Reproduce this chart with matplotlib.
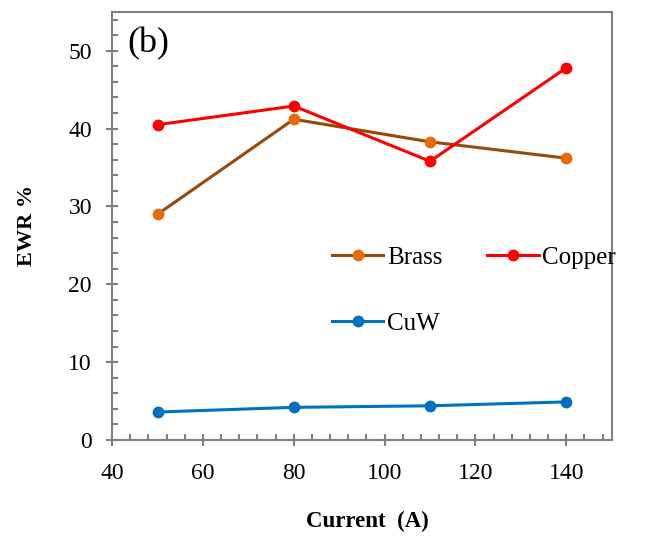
import matplotlib
matplotlib.use("Agg")
import matplotlib.pyplot as plt
from matplotlib.ticker import MultipleLocator

current = [50, 80, 110, 140]
brass = [29.0, 41.2, 38.3, 36.2]
copper = [40.5, 42.9, 35.8, 47.8]
cuw = [3.6, 4.2, 4.4, 4.9]

plt.rcParams['font.family'] = ['Liberation Serif', 'DejaVu Serif']

fig = plt.figure(figsize=(6.48, 5.36), dpi=100)
ax = fig.add_axes([0.173, 0.179, 0.771, 0.799])

gray = '#808080'
l1, = ax.plot(current, brass, color='#984807', lw=2.2, marker='o', ms=7.5,
              mfc='#E46C0A', mec='#E46C0A', label='Brass', zorder=3)
l2, = ax.plot(current, copper, color='#FF0000', lw=2.2, marker='o', ms=7.5,
              mfc='#FF0000', mec='#FF0000', label='Copper', zorder=3)
l3, = ax.plot(current, cuw, color='#0070C0', lw=2.2, marker='o', ms=7.5,
              mfc='#0070C0', mec='#0070C0', label='CuW', zorder=3)

ax.set_xlim(40, 150)
ax.set_ylim(0, 55)
ax.xaxis.set_major_locator(MultipleLocator(20))
ax.xaxis.set_minor_locator(MultipleLocator(4))
ax.yaxis.set_major_locator(MultipleLocator(10))
ax.yaxis.set_minor_locator(MultipleLocator(2))

for s in ax.spines.values():
    s.set_color(gray)
    s.set_linewidth(1.5)

ax.tick_params(which='major', direction='inout', length=9, width=1.5,
               color=gray, labelsize=17, pad=10)
ax.tick_params(which='minor', direction='in', length=4.5, width=1.5,
               color=gray)
ax.tick_params(axis='x', pad=12)

ax.set_xlabel('Current  (A)', fontsize=16.5, fontweight='bold')
ax.set_ylabel('EWR %', fontsize=16, fontweight='bold')
ax.xaxis.set_label_coords(0.51, -0.165)
ax.yaxis.set_label_coords(-0.15, 0.5)

ax.text(0.03, 0.965, '(b)', transform=ax.transAxes, fontsize=26,
        va='top', ha='left')

leg = ax.legend(handles=[l1, l3, l2], ncol=2, loc='upper left',
                bbox_to_anchor=(0.44, 0.453), frameon=False, fontsize=18,
                handlelength=2.05, handletextpad=0.15, columnspacing=1.8,
                labelspacing=1.74, borderpad=0, borderaxespad=0)

fig.savefig('out.png', dpi=100)
